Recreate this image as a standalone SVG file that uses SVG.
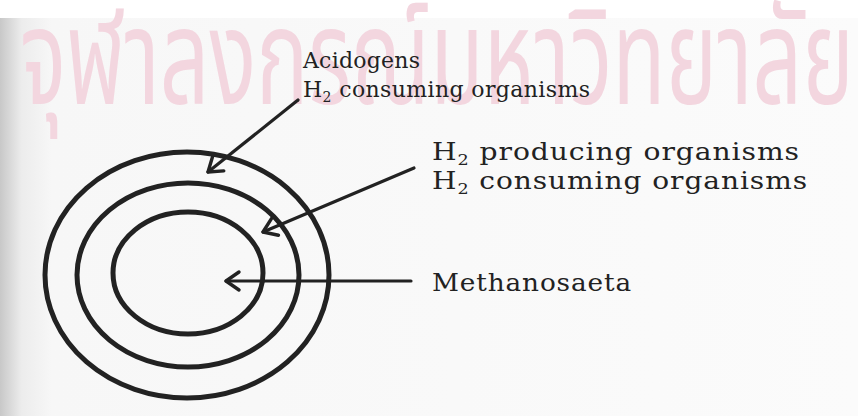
<svg xmlns="http://www.w3.org/2000/svg" width="858" height="416" viewBox="0 0 858 416">
<defs>
<linearGradient id="shade" x1="0" y1="0" x2="1" y2="0">
<stop offset="0" stop-color="#c8c8c8"/>
<stop offset="0.025" stop-color="#ececec"/>
<stop offset="0.06" stop-color="#f7f7f7"/>
<stop offset="1" stop-color="#fbfbfb"/>
</linearGradient>
<marker id="arr" viewBox="0 0 24 24" refX="20" refY="12" markerWidth="24" markerHeight="24" markerUnits="userSpaceOnUse" orient="auto">
<path d="M7 3 L20 12 L7 21" fill="none" stroke="#222" stroke-width="3.4" stroke-linecap="round" stroke-linejoin="round"/>
</marker>
<style>
.ring{fill:none;stroke:#222;stroke-width:5}
.conn{fill:none;stroke:#222;stroke-width:3.2;stroke-linecap:round}
.lbl{font-family:"DejaVu Serif","Liberation Serif",serif;fill:#222}
.wm{font-family:"Noto Sans Thai","Loma","Garuda","DejaVu Sans",sans-serif;fill:#f3d6df;font-size:135px}
</style>
</defs>
<rect x="0" y="0" width="858" height="416" fill="#ffffff"/>
<rect x="0" y="18" width="858" height="398" fill="url(#shade)"/>
<text class="wm" x="20" y="104" textLength="834" lengthAdjust="spacingAndGlyphs">จุฬาลงกรณ์มหาวิทยาลัย</text>
<g id="outer-ring"><ellipse class="ring" cx="187" cy="275" rx="142" ry="123"/></g>
<g id="middle-ring"><ellipse class="ring" cx="188" cy="275" rx="111" ry="92"/></g>
<g id="inner-ring"><ellipse class="ring" cx="188" cy="273" rx="75" ry="61"/></g>
<g id="connectors">
<line class="conn" x1="298" y1="100" x2="208" y2="172" marker-end="url(#arr)"/>
<line class="conn" x1="414" y1="168" x2="263" y2="232" marker-end="url(#arr)"/>
<line class="conn" x1="411" y1="281" x2="226" y2="281" marker-end="url(#arr)"/>
</g>
<g id="label-acidogens">
<text class="lbl" x="303" y="68" font-size="22" textLength="117" lengthAdjust="spacing">Acidogens</text>
<text class="lbl" x="303" y="97" font-size="22" textLength="287" lengthAdjust="spacing">H<tspan font-size="14" dy="5">2</tspan><tspan dy="-5"> consuming  organisms</tspan></text>
</g>
<g id="label-middle">
<text class="lbl" x="432" y="160" font-size="24" letter-spacing="0.8" textLength="368" lengthAdjust="spacingAndGlyphs">H<tspan font-size="15" dy="5">2</tspan><tspan dy="-5"> producing  organisms</tspan></text>
<text class="lbl" x="432" y="189" font-size="24" letter-spacing="0.8" textLength="376" lengthAdjust="spacingAndGlyphs">H<tspan font-size="15" dy="5">2</tspan><tspan dy="-5"> consuming  organisms</tspan></text>
</g>
<g id="label-methanosaeta">
<text class="lbl" x="432" y="291" font-size="24" letter-spacing="0.8" textLength="200" lengthAdjust="spacingAndGlyphs">Methanosaeta</text>
</g>
</svg>
